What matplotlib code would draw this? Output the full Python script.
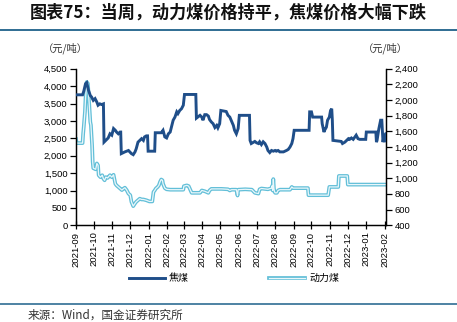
import matplotlib
matplotlib.use("Agg")
import matplotlib.pyplot as plt
import matplotlib.dates as mdates
import matplotlib.patheffects as pe
from matplotlib.ticker import FuncFormatter
import pandas as pd

plt.rcParams['font.family'] = ['Liberation Sans', 'Noto Sans CJK SC', 'DejaVu Sans']

title = "图表75：当周，动力煤价格持平，焦煤价格大幅下跌"
source = "来源：Wind，国金证券研究所"
unit = "（元/吨）"
series_names = ["焦煤", "动力煤"]

coking_dates = [
    "2021-09-01", "2021-09-12", "2021-09-14", "2021-09-17", "2021-09-19", "2021-09-22",
    "2021-09-25", "2021-09-27", "2021-09-30", "2021-10-03", "2021-10-06", "2021-10-08",
    "2021-10-11", "2021-10-14", "2021-10-17", "2021-10-18", "2021-10-21", "2021-10-25",
    "2021-10-28", "2021-10-31", "2021-11-03", "2021-11-06", "2021-11-08", "2021-11-11",
    "2021-11-14", "2021-11-15", "2021-11-16", "2021-11-22", "2021-11-28", "2021-12-03",
    "2021-12-06", "2021-12-09", "2021-12-11", "2021-12-14", "2021-12-17", "2021-12-20",
    "2021-12-23", "2021-12-25", "2021-12-28", "2021-12-30", "2021-12-31", "2022-01-11",
    "2022-01-12", "2022-01-22", "2022-01-25", "2022-01-28", "2022-01-31", "2022-02-03",
    "2022-02-06", "2022-02-08", "2022-02-11", "2022-02-14", "2022-02-17", "2022-02-19",
    "2022-02-22", "2022-02-25", "2022-02-28", "2022-03-02", "2022-03-21", "2022-03-22",
    "2022-03-28", "2022-03-31", "2022-04-02", "2022-04-05", "2022-04-08", "2022-04-11",
    "2022-04-13", "2022-04-16", "2022-04-19", "2022-04-22", "2022-04-25", "2022-04-27",
    "2022-04-30", "2022-05-02", "2022-05-11", "2022-05-14", "2022-05-17", "2022-05-20",
    "2022-05-23", "2022-05-25", "2022-05-28", "2022-05-31", "2022-06-02", "2022-06-19",
    "2022-06-20", "2022-06-22", "2022-06-28", "2022-07-01", "2022-07-04", "2022-07-06",
    "2022-07-09", "2022-07-12", "2022-07-15", "2022-07-18", "2022-07-20", "2022-07-23",
    "2022-07-26", "2022-07-29", "2022-08-01", "2022-08-03", "2022-08-06", "2022-08-09",
    "2022-08-15", "2022-08-20", "2022-08-23", "2022-08-26", "2022-08-29", "2022-08-31",
    "2022-09-02", "2022-09-27", "2022-09-28", "2022-10-01", "2022-10-03", "2022-10-18",
    "2022-10-19", "2022-10-22", "2022-10-23", "2022-10-26", "2022-10-28", "2022-10-31",
    "2022-11-02", "2022-11-04", "2022-11-05", "2022-11-06", "2022-11-20", "2022-11-22",
    "2022-11-26", "2022-11-29", "2022-12-02", "2022-12-04", "2022-12-07", "2022-12-10",
    "2022-12-13", "2022-12-15", "2022-12-18", "2022-12-21", "2022-12-31", "2023-01-01",
    "2023-01-17", "2023-01-18", "2023-01-19", "2023-01-22", "2023-01-25", "2023-01-27",
    "2023-01-29", "2023-01-31", "2023-02-01", "2023-02-03",
]
coking_price = [
    3750, 3750, 3850, 4070, 4100, 3880,
    3730, 3690, 3590, 3640, 3540, 3450,
    3490, 3470, 3490, 2390, 2440, 2510,
    2630, 2590, 2780, 2730, 2680, 2630,
    2680, 2680, 2060, 2110, 2150, 2060,
    2030, 2110, 2200, 2390, 2440, 2490,
    2440, 2540, 2570, 2570, 2130, 2130,
    2660, 2660, 2730, 2540, 2510, 2630,
    2680, 2820, 3020, 3110, 3260, 3210,
    3300, 3350, 3450, 3760, 3760, 3080,
    3160, 3110, 3020, 3180, 3180, 3140,
    3040, 2970, 2920, 2810, 2870, 2800,
    2920, 3300, 3270, 3160, 3110, 2990,
    2870, 2730, 2630, 2780, 3160, 3160,
    2440, 2350, 2410, 2370, 2350, 2400,
    2320, 2400, 2350, 2250, 2150, 2090,
    2150, 2130, 2150, 2130, 2150, 2110,
    2110, 2150, 2180, 2250, 2350, 2490,
    2730, 2730, 3260, 3260, 3110, 3110,
    2920, 2680, 2730, 2820, 3020, 3110,
    3300, 3350, 3020, 2440, 2410, 2350,
    2390, 2440, 2490, 2470, 2510, 2470,
    2540, 2590, 2490, 2470, 2470, 2680,
    2680, 2390, 2440, 2770, 3020, 3020,
    2390, 2630, 2390, 2630,
]

thermal_dates = [
    "2021-09-01", "2021-09-02", "2021-09-12", "2021-09-13", "2021-09-14", "2021-09-16",
    "2021-09-17", "2021-09-19", "2021-09-21", "2021-09-22", "2021-09-23", "2021-09-25",
    "2021-09-26", "2021-09-28", "2021-09-29", "2021-09-30", "2021-10-04", "2021-10-06",
    "2021-10-08", "2021-10-09", "2021-10-12", "2021-10-15", "2021-10-17", "2021-10-19",
    "2021-10-21", "2021-10-24", "2021-10-28", "2021-10-31", "2021-11-03", "2021-11-06",
    "2021-11-08", "2021-11-11", "2021-11-14", "2021-11-17", "2021-11-20", "2021-11-22",
    "2021-11-25", "2021-11-28", "2021-12-01", "2021-12-03", "2021-12-06", "2021-12-09",
    "2021-12-11", "2021-12-14", "2021-12-17", "2021-12-20", "2021-12-23", "2021-12-28",
    "2022-01-02", "2022-01-07", "2022-01-09", "2022-01-11", "2022-01-13", "2022-01-16",
    "2022-01-18", "2022-01-20", "2022-01-22", "2022-01-24", "2022-01-25", "2022-01-28",
    "2022-01-31", "2022-02-06", "2022-02-28", "2022-03-01", "2022-03-06", "2022-03-09",
    "2022-03-14", "2022-03-28", "2022-03-31", "2022-04-05", "2022-04-11", "2022-04-13",
    "2022-04-16", "2022-04-22", "2022-05-03", "2022-05-14", "2022-05-17", "2022-05-20",
    "2022-05-28", "2022-05-30", "2022-05-31", "2022-06-12", "2022-06-23", "2022-06-28",
    "2022-07-04", "2022-07-06", "2022-07-09", "2022-07-20", "2022-07-26", "2022-07-27",
    "2022-07-28", "2022-07-29", "2022-07-30", "2022-07-31", "2022-08-01", "2022-08-04",
    "2022-08-06", "2022-08-09", "2022-08-26", "2022-08-29", "2022-08-31", "2022-09-25",
    "2022-09-26", "2022-10-29", "2022-10-31", "2022-11-15", "2022-11-16", "2022-11-30",
    "2022-12-01", "2023-02-03",
]
thermal_price = [
    1500, 1450, 1450, 1570, 1655, 1850,
    2020, 2230, 2210, 2080, 1970, 1720,
    1680, 1420, 1210, 1130, 1115, 1190,
    1165, 1040, 1015, 1040, 995, 975,
    1015, 1005, 1040, 1015, 1045, 930,
    910, 890, 870, 850, 870, 880,
    850, 805, 785, 700, 645, 680,
    700, 720, 740, 730, 730, 720,
    705, 705, 825, 845, 870, 890,
    910, 955, 985, 975, 930, 875,
    860, 855, 855, 900, 910, 900,
    815, 815, 845, 835, 815, 845,
    865, 865, 865, 860, 845, 855,
    855, 780, 855, 860, 855, 815,
    805, 860, 870, 860, 875, 905,
    845, 990, 870, 830, 815, 815,
    845, 855, 855, 890, 875, 875,
    785, 785, 890, 890, 1030, 1030,
    920, 920,
]

left_ticks = list(range(0, 4501, 500))
right_ticks = list(range(400, 2401, 200))

DARK = "#1F4E89"
LIGHT = "#62BFD8"
RULE = "#2F6D93"
CJK = ['Noto Sans CJK SC', 'DejaVu Sans']

fig = plt.figure(figsize=(4.57, 3.22), dpi=100)
ax = fig.add_axes([0.1663, 0.3003, 0.6783, 0.4863])
ax2 = ax.twinx()

cx = pd.to_datetime(coking_dates)
tx = pd.to_datetime(thermal_dates)

l1, = ax.plot(cx, coking_price, color=DARK, lw=2.1, solid_joinstyle='miter',
              label=series_names[0], zorder=3)
l2, = ax2.plot(tx, thermal_price, color="#EAF7FB", lw=0.9, label=series_names[1],
               path_effects=[pe.Stroke(linewidth=2.7, foreground=LIGHT), pe.Normal()])
ax.set_zorder(ax2.get_zorder() + 1)
ax.patch.set_visible(False)

ax.set_xlim(pd.Timestamp("2021-09-01"), pd.Timestamp("2023-02-03"))
ax.set_ylim(0, 4500)
ax2.set_ylim(400, 2400)
ax.set_yticks(left_ticks)
ax2.set_yticks(right_ticks)
fmt = FuncFormatter(lambda v, p: f"{int(v):,}")
ax.yaxis.set_major_formatter(fmt)
ax2.yaxis.set_major_formatter(fmt)

ax.xaxis.set_major_locator(mdates.MonthLocator())
ax.xaxis.set_major_formatter(mdates.DateFormatter("%Y-%m"))
for lab in ax.get_xticklabels():
    lab.set_rotation(90)

for a in (ax, ax2):
    a.spines["top"].set_visible(False)
    for s in ("left", "right", "bottom"):
        a.spines[s].set_linewidth(0.9)
        a.spines[s].set_color("black")

ax.tick_params(axis='x', direction='inout', length=6, width=0.9, labelsize=6.8, pad=1.5)
ax.tick_params(axis='y', direction='out', length=4, width=0.9, labelsize=6.8, pad=2)
ax2.tick_params(axis='y', direction='out', length=4, width=0.9, labelsize=6.8, pad=2)

unit_font = dict(family=CJK, fontsize=7.4, color="#333333")
fig.text(65 / 457, 1 - 48 / 322, unit, ha='center', va='center', **unit_font)
fig.text(385 / 457, 1 - 48 / 322, unit, ha='center', va='center', **unit_font)

fig.text(30 / 457, 1 - 13 / 322, title, ha='left', va='center',
         family=CJK, fontsize=12.3, fontweight='bold', color="#111111")
fig.add_artist(plt.Line2D([0, 1], [1 - 29.5 / 322] * 2, color=RULE, lw=1.4,
                          transform=fig.transFigure))
fig.add_artist(plt.Line2D([0, 1], [1 - 303.5 / 322] * 2, color=RULE, lw=1.2,
                          transform=fig.transFigure))
fig.text(28 / 457, 1 - 315 / 322, source, ha='left', va='center',
         family=CJK, fontsize=8.4, color="#333333")

fig.legend([l1, l2], series_names, loc='center', bbox_to_anchor=(234 / 457, 1 - 278 / 322),
           ncol=2, frameon=False, handlelength=3.6, handletextpad=0.4,
           columnspacing=8.0, prop={'family': CJK, 'size': 7.2})

fig.savefig("out.png", dpi=100)
